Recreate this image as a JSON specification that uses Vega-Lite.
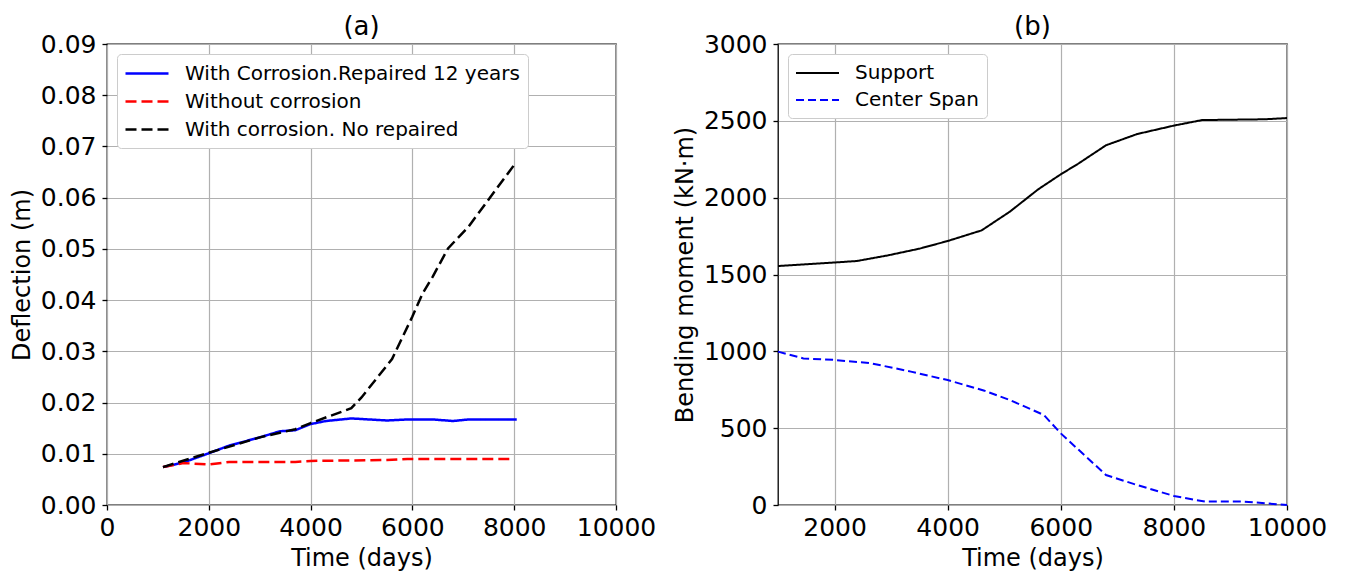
{
  "$schema": "https://vega.github.io/schema/vega-lite/v6.json",
  "autosize": {"type": "pad"},
  "padding": {"left": 9, "top": 13, "right": 0, "bottom": 0},
  "background": "white",
  "bounds": "flush",
  "spacing": 162,
  "config": {
    "font": "DejaVu Sans",
    "view": {"stroke": "#000000", "strokeWidth": 1.3},
    "axis": {
      "labelFont": "DejaVu Sans", "labelFontSize": 25, "labelColor": "#000000",
      "titleFont": "DejaVu Sans", "titleFontSize": 24, "titleFontWeight": "normal", "titleColor": "#000000",
      "domain": false, "tickColor": "#000000", "tickSize": 5, "tickWidth": 1.3,
      "gridColor": "#b0b0b0", "gridWidth": 1.2, "gridOpacity": 1, "labelPadding": 6,
      "labelOverlap": false, "labelFlush": false, "labelBound": false
    },
    "axisX": {"labelPadding": 5},
    "title": {"font": "DejaVu Sans", "fontSize": 26, "fontWeight": "normal", "color": "#000000", "offset": -8, "frame": "group", "anchor": "middle"},
    "legend": {
      "orient": "top-left", "offset": 10, "padding": 8,
      "fillColor": "white", "strokeColor": "#cccccc", "cornerRadius": 4,
      "labelFont": "DejaVu Sans", "labelFontSize": 20, "labelColor": "#000000", "labelLimit": 1000,
      "symbolType": "M-1.1,0H3.2", "symbolSize": 400, "symbolStrokeWidth": 2.5,
      "rowPadding": 6, "labelOffset": 37
    }
  },
  "datasets": {
    "a": [
      {"t": 1100, "v": 0.0074, "s": "With Corrosion.Repaired 12 years"},
      {"t": 1500, "v": 0.0083, "s": "With Corrosion.Repaired 12 years"},
      {"t": 2000, "v": 0.0101, "s": "With Corrosion.Repaired 12 years"},
      {"t": 2400, "v": 0.0116, "s": "With Corrosion.Repaired 12 years"},
      {"t": 3000, "v": 0.0132, "s": "With Corrosion.Repaired 12 years"},
      {"t": 3400, "v": 0.0144, "s": "With Corrosion.Repaired 12 years"},
      {"t": 3700, "v": 0.0146, "s": "With Corrosion.Repaired 12 years"},
      {"t": 4000, "v": 0.0158, "s": "With Corrosion.Repaired 12 years"},
      {"t": 4300, "v": 0.0164, "s": "With Corrosion.Repaired 12 years"},
      {"t": 4800, "v": 0.0169, "s": "With Corrosion.Repaired 12 years"},
      {"t": 5500, "v": 0.0165, "s": "With Corrosion.Repaired 12 years"},
      {"t": 5900, "v": 0.0167, "s": "With Corrosion.Repaired 12 years"},
      {"t": 6400, "v": 0.0167, "s": "With Corrosion.Repaired 12 years"},
      {"t": 6800, "v": 0.0164, "s": "With Corrosion.Repaired 12 years"},
      {"t": 7100, "v": 0.0167, "s": "With Corrosion.Repaired 12 years"},
      {"t": 8050, "v": 0.0167, "s": "With Corrosion.Repaired 12 years"},
      {"t": 1100, "v": 0.0074, "s": "Without corrosion"},
      {"t": 1500, "v": 0.0082, "s": "Without corrosion"},
      {"t": 2000, "v": 0.0079, "s": "Without corrosion"},
      {"t": 2400, "v": 0.0084, "s": "Without corrosion"},
      {"t": 3700, "v": 0.0084, "s": "Without corrosion"},
      {"t": 4000, "v": 0.0086, "s": "Without corrosion"},
      {"t": 4800, "v": 0.0087, "s": "Without corrosion"},
      {"t": 5500, "v": 0.0088, "s": "Without corrosion"},
      {"t": 5900, "v": 0.009, "s": "Without corrosion"},
      {"t": 6400, "v": 0.009, "s": "Without corrosion"},
      {"t": 8000, "v": 0.009, "s": "Without corrosion"},
      {"t": 1100, "v": 0.0074, "s": "With corrosion. No repaired"},
      {"t": 2000, "v": 0.0102, "s": "With corrosion. No repaired"},
      {"t": 3000, "v": 0.0132, "s": "With corrosion. No repaired"},
      {"t": 3700, "v": 0.0148, "s": "With corrosion. No repaired"},
      {"t": 4000, "v": 0.016, "s": "With corrosion. No repaired"},
      {"t": 4800, "v": 0.0189, "s": "With corrosion. No repaired"},
      {"t": 5000, "v": 0.021, "s": "With corrosion. No repaired"},
      {"t": 5600, "v": 0.0285, "s": "With corrosion. No repaired"},
      {"t": 6000, "v": 0.0368, "s": "With corrosion. No repaired"},
      {"t": 6200, "v": 0.0413, "s": "With corrosion. No repaired"},
      {"t": 6400, "v": 0.0446, "s": "With corrosion. No repaired"},
      {"t": 6700, "v": 0.0501, "s": "With corrosion. No repaired"},
      {"t": 7100, "v": 0.0543, "s": "With corrosion. No repaired"},
      {"t": 8000, "v": 0.0664, "s": "With corrosion. No repaired"}
    ],
    "b": [
      {"t": 1000, "v": 1555, "s": "Support"},
      {"t": 2000, "v": 1578, "s": "Support"},
      {"t": 2400, "v": 1588, "s": "Support"},
      {"t": 2950, "v": 1625, "s": "Support"},
      {"t": 3500, "v": 1668, "s": "Support"},
      {"t": 4000, "v": 1718, "s": "Support"},
      {"t": 4600, "v": 1787, "s": "Support"},
      {"t": 5100, "v": 1909, "s": "Support"},
      {"t": 5600, "v": 2054, "s": "Support"},
      {"t": 6000, "v": 2152, "s": "Support"},
      {"t": 6300, "v": 2219, "s": "Support"},
      {"t": 6800, "v": 2341, "s": "Support"},
      {"t": 7350, "v": 2414, "s": "Support"},
      {"t": 8000, "v": 2469, "s": "Support"},
      {"t": 8500, "v": 2505, "s": "Support"},
      {"t": 9600, "v": 2510, "s": "Support"},
      {"t": 10000, "v": 2518, "s": "Support"},
      {"t": 1000, "v": 998, "s": "Center Span"},
      {"t": 1450, "v": 954, "s": "Center Span"},
      {"t": 2000, "v": 944, "s": "Center Span"},
      {"t": 2650, "v": 922, "s": "Center Span"},
      {"t": 3350, "v": 868, "s": "Center Span"},
      {"t": 4000, "v": 813, "s": "Center Span"},
      {"t": 4650, "v": 744, "s": "Center Span"},
      {"t": 5100, "v": 683, "s": "Center Span"},
      {"t": 5700, "v": 586, "s": "Center Span"},
      {"t": 6000, "v": 466, "s": "Center Span"},
      {"t": 6800, "v": 195, "s": "Center Span"},
      {"t": 7350, "v": 130, "s": "Center Span"},
      {"t": 8000, "v": 59, "s": "Center Span"},
      {"t": 8550, "v": 22, "s": "Center Span"},
      {"t": 9250, "v": 22, "s": "Center Span"},
      {"t": 10000, "v": 0, "s": "Center Span"}
    ]
  },
  "hconcat": [
    {
      "width": 509, "height": 461,
      "title": "(a)",
      "data": {"name": "a"},
      "mark": {"type": "line", "strokeWidth": 2.5},
      "encoding": {
        "x": {"field": "t", "type": "quantitative",
              "scale": {"domain": [0, 10000], "nice": false, "zero": false},
              "axis": {"values": [0, 2000, 4000, 6000, 8000, 10000], "format": "d", "title": "Time (days)", "titlePadding": 6}},
        "y": {"field": "v", "type": "quantitative",
              "scale": {"domain": [0, 0.09], "nice": false},
              "axis": {"values": [0, 0.01, 0.02, 0.03, 0.04, 0.05, 0.06, 0.07, 0.08, 0.09], "format": ".2f", "title": "Deflection (m)", "titlePadding": 6}},
        "color": {"field": "s", "type": "nominal",
                  "scale": {"domain": ["With Corrosion.Repaired 12 years", "Without corrosion", "With corrosion. No repaired"], "range": ["#0000ff", "#ff0000", "#000000"]},
                  "legend": {"title": null}},
        "strokeDash": {"field": "s", "type": "nominal",
                  "scale": {"domain": ["With Corrosion.Repaired 12 years", "Without corrosion", "With corrosion. No repaired"], "range": [[1, 0], [11, 5], [11, 5]]},
                  "legend": {"title": null}}
      }
    },
    {
      "width": 509, "height": 461,
      "title": "(b)",
      "data": {"name": "b"},
      "mark": {"type": "line", "strokeWidth": 2},
      "encoding": {
        "x": {"field": "t", "type": "quantitative",
              "scale": {"domain": [1000, 10000], "nice": false, "zero": false},
              "axis": {"values": [2000, 4000, 6000, 8000, 10000], "format": "d", "title": "Time (days)", "titlePadding": 6}},
        "y": {"field": "v", "type": "quantitative",
              "scale": {"domain": [0, 3000], "nice": false},
              "axis": {"values": [0, 500, 1000, 1500, 2000, 2500, 3000], "format": "d", "title": "Bending moment (kN·m)", "titlePadding": 6}},
        "color": {"field": "s", "type": "nominal",
                  "scale": {"domain": ["Support", "Center Span"], "range": ["#000000", "#0000ff"]},
                  "legend": {"title": null, "symbolStrokeWidth": 2}},
        "strokeDash": {"field": "s", "type": "nominal",
                  "scale": {"domain": ["Support", "Center Span"], "range": [[1, 0], [8, 4]]},
                  "legend": {"title": null, "symbolStrokeWidth": 2}}
      }
    }
  ],
  "resolve": {
    "scale": {"color": "independent", "strokeDash": "independent"},
    "legend": {"color": "independent", "strokeDash": "independent"}
  }
}
